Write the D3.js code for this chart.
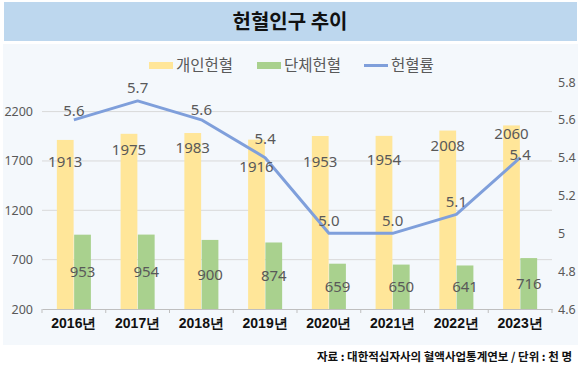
<!DOCTYPE html>
<html><head><meta charset="utf-8">
<script src="https://cdn.jsdelivr.net/npm/d3@7"></script>
<style>
html,body{margin:0;padding:0;background:#fff;}
svg{display:block;font-family:"Noto Sans CJK KR","Noto Sans",sans-serif;}
</style></head>
<body>
<svg id="c" width="580" height="369"></svg>
<script>
const categories = ["2016년","2017년","2018년","2019년","2020년","2021년","2022년","2023년"];
const personal = [1913,1975,1983,1916,1953,1954,2008,2060];
const group = [953,954,900,874,659,650,641,716];
const rate = [5.6,5.7,5.6,5.4,5.0,5.0,5.1,5.4];
const leftTicks = [200,700,1200,1700,2200];
const rightTicks = [4.6,4.8,5,5.2,5.4,5.6,5.8];
const seriesNames = ["개인헌혈","단체헌혈","헌혈률"];
const title = "헌혈인구 추이";
const source = "자료 : 대한적십자사의 혈액사업통계연보 / 단위 : 천 명";
// label placement tweaks (layout only)
const personalLabelShift = [22,16,15,27,26,24,15,8];
const rateLabelShift = [9,13,10,19,13,13,13,3];

const svg = d3.select("#c");
const colYellow = "#FFE699", colGreen = "#A9D18E", colLine = "#7F9FDB";
const txtGray = "#595959";

// backgrounds
svg.append("rect").attr("x",4).attr("y",2).attr("width",573).attr("height",39).attr("fill","#BDD7EE");
svg.append("rect").attr("x",3).attr("y",44).attr("width",575).attr("height",301).attr("fill","#F4F8FC");
svg.append("text").attr("x",290).attr("y",29).attr("text-anchor","middle")
  .attr("font-size",20).attr("font-weight","bold").attr("fill","#111").text(title);

const x0 = d3.scaleBand().domain(categories).range([42,552]).paddingInner(0.466).paddingOuter(0.233);
const x1 = d3.scaleBand().domain(["p","g"]).range([0,x0.bandwidth()]).paddingInner(0.03);
const xc = d3.scaleBand().domain(categories).range([42,552]);
const yL = d3.scaleLinear().domain([200,2500]).range([309,82]);
const yR = d3.scaleLinear().domain([4.6,5.8]).range([309,82]);

// gridlines
svg.append("g").selectAll("line").data(leftTicks.slice(1)).join("line")
  .attr("x1",42).attr("x2",552).attr("y1",d=>yL(d)).attr("y2",d=>yL(d))
  .attr("stroke","#D9D9D9").attr("stroke-width",1);

// left axis
const gl = svg.append("g").attr("transform","translate(33,0)")
  .call(d3.axisLeft(yL).tickValues(leftTicks).tickSize(0).tickPadding(0).tickFormat(d3.format("d")));
gl.select(".domain").remove();
gl.selectAll("text").attr("font-size",12.5).attr("fill",txtGray).attr("font-family","'Noto Sans',sans-serif");

// right axis
const gr = svg.append("g").attr("transform","translate(558,0)")
  .call(d3.axisRight(yR).tickValues(rightTicks).tickSize(0).tickPadding(0).tickFormat(d=>String(+d.toFixed(1))));
gr.select(".domain").remove();
gr.selectAll("text").attr("font-size",12.5).attr("fill",txtGray).attr("font-family","'Noto Sans',sans-serif");

// bars
const gBars = svg.append("g");
gBars.selectAll("rect.p").data(personal).join("rect").attr("class","p")
  .attr("x",(d,i)=>x0(categories[i])+x1("p")).attr("width",x1.bandwidth())
  .attr("y",d=>yL(d)).attr("height",d=>yL(200)-yL(d)).attr("fill",colYellow);
gBars.selectAll("rect.g").data(group).join("rect").attr("class","g")
  .attr("x",(d,i)=>x0(categories[i])+x1("g")).attr("width",x1.bandwidth())
  .attr("y",d=>yL(d)).attr("height",d=>yL(200)-yL(d)).attr("fill",colGreen);

// x axis
const gx = svg.append("g").attr("transform","translate(0,309)")
  .call(d3.axisBottom(xc).tickSize(0).tickPadding(9));
gx.select(".domain").attr("stroke","#BFBFBF");
gx.selectAll(".tick text").attr("font-size",14).attr("font-weight","bold").attr("fill","#111");
svg.append("g").selectAll("line").data(d3.range(categories.length+1)).join("line")
  .attr("x1",i=>42+i*xc.step()).attr("x2",i=>42+i*xc.step())
  .attr("y1",309).attr("y2",313).attr("stroke","#BFBFBF");

// line
const lineGen = d3.line().x((d,i)=>xc(categories[i])+xc.bandwidth()/2).y(d=>yR(d));
svg.append("path").datum(rate).attr("d",lineGen).attr("fill","none")
  .attr("stroke",colLine).attr("stroke-width",3).attr("stroke-linejoin","round");

// labels
const lab = svg.append("g").attr("font-size",15).attr("fill",txtGray).attr("text-anchor","middle")
  .attr("font-family","'Noto Sans',sans-serif");
lab.selectAll("text.p").data(personal).join("text").attr("class","p")
  .attr("x",(d,i)=>x0(categories[i])+x1("p")+x1.bandwidth()/2)
  .attr("y",(d,i)=>yL(d)+personalLabelShift[i]).attr("dy","0.35em").text(d=>d);
lab.selectAll("text.g").data(group).join("text").attr("class","g")
  .attr("x",(d,i)=>x0(categories[i])+x1("g")+x1.bandwidth()/2)
  .attr("y",d=>(yL(d)+yL(200))/2).attr("dy","0.35em").text(d=>d);
lab.selectAll("text.r").data(rate).join("text").attr("class","r")
  .attr("x",(d,i)=>xc(categories[i])+xc.bandwidth()/2)
  .attr("y",(d,i)=>yR(d)-rateLabelShift[i]).attr("dy","0.35em").text(d=>d.toFixed(1));

// legend
const leg = svg.append("g").attr("font-size",15.5).attr("fill",txtGray);
const legItems = [
  {x:149,type:"rect",color:colYellow,name:seriesNames[0]},
  {x:257,type:"rect",color:colGreen,name:seriesNames[1]},
  {x:364,type:"line",color:colLine,name:seriesNames[2]}
];
legItems.forEach(it=>{
  if(it.type==="rect") leg.append("rect").attr("x",it.x).attr("y",62).attr("width",24).attr("height",7).attr("fill",it.color);
  else leg.append("line").attr("x1",it.x).attr("x2",it.x+24).attr("y1",65.5).attr("y2",65.5).attr("stroke",it.color).attr("stroke-width",3);
  leg.append("text").attr("x",it.x+27).attr("y",65.5).attr("dy","0.35em").text(it.name);
});

// source
svg.append("text").attr("x",572).attr("y",357).attr("dy","0.35em").attr("text-anchor","end")
  .attr("font-size",11.5).attr("font-weight","bold").attr("fill","#111").text(source);
</script>
</body></html>
